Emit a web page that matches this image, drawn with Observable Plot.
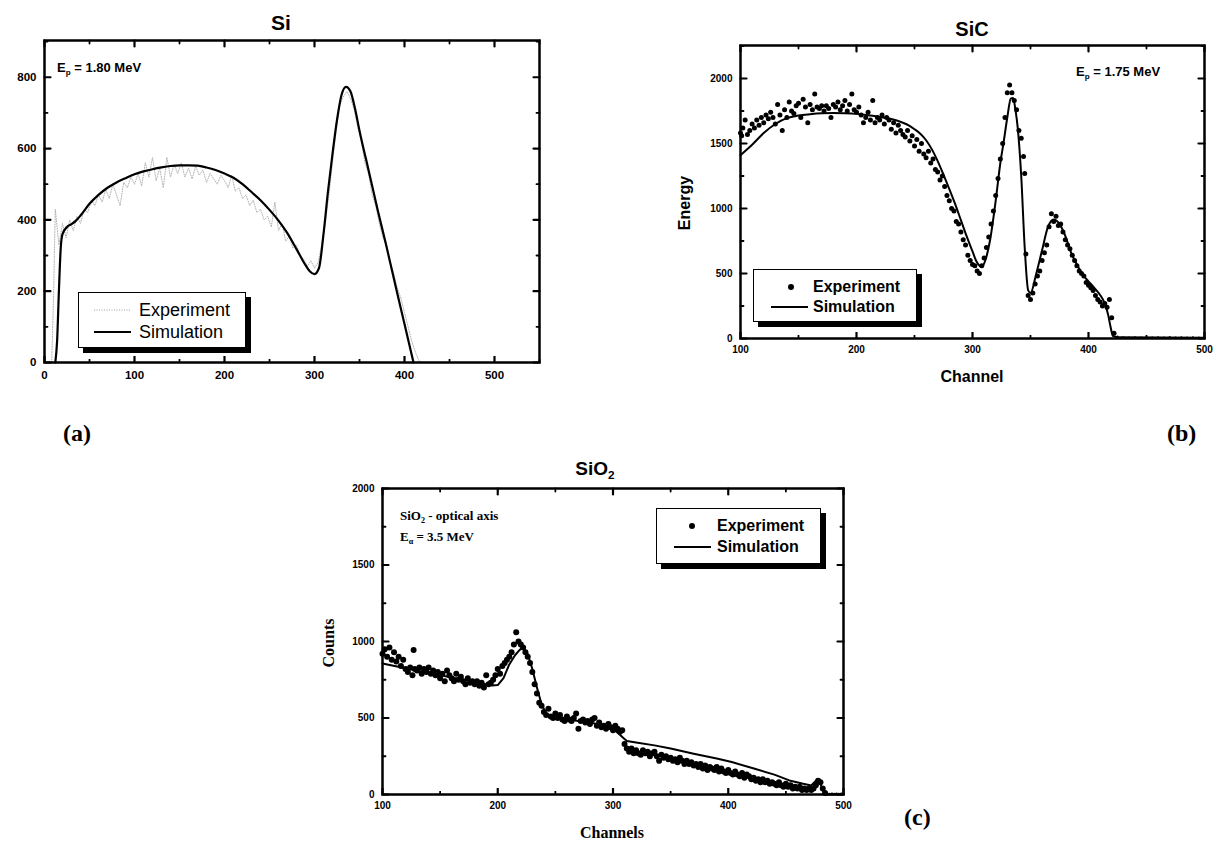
<!DOCTYPE html>
<html>
<head>
<meta charset="utf-8">
<script src="https://cdn.jsdelivr.net/npm/d3@7"></script>
<script src="https://cdn.jsdelivr.net/npm/@observablehq/plot@0.6"></script>
<style>
  html, body { margin: 0; padding: 0; background: #fff; }
  #fig { position: relative; width: 1220px; height: 844px; background: #fff; overflow: hidden; }
  .t { position: absolute; white-space: nowrap; color: #000; line-height: 1; }
  .sans { font-family: "Liberation Sans", Arial, sans-serif; font-weight: bold; }
  .serif { font-family: "Liberation Serif", "Times New Roman", serif; font-weight: bold; }
  .legend { position: absolute; background: #fff; border: 1px solid #000; box-shadow: 5px 5px 0 #000; box-sizing: border-box; }
  sub { font-size: 0.62em; vertical-align: -0.35em; line-height: 0; }
</style>
</head>
<body>
<div id="fig"></div>
<script>
// ---------------- DATA ----------------
const siSim = [[12,0],[14,60],[16,200],[18,320],[20,360],[25,380],[30,388],[35,398],[40,412],[50,445],[60,470],[70,490],[80,505],[90,517],[100,528],[110,536],[120,542],[130,547],[140,551],[150,553],[160,553],[170,552],[180,547],[190,540],[200,530],[210,518],[220,500],[230,478],[240,455],[250,428],[260,398],[270,362],[280,318],[290,273],[295,255],[300,248],[305,265],[310,360],[315,480],[320,585],[325,680],[330,750],[335,773],[340,760],[345,712],[350,650],[360,540],[370,430],[380,325],[390,215],[400,108],[410,0]];
const siExp = [[8,0],[10,180],[12,430],[16,330],[20,390],[24,350],[28,400],[32,370],[36,410],[40,390],[44,430],[48,420],[52,455],[56,440],[60,470],[64,450],[68,485],[72,460],[76,500],[80,470],[84,440],[88,505],[92,490],[96,520],[100,500],[104,530],[108,495],[112,560],[116,520],[120,575],[124,510],[128,545],[132,490],[136,575],[140,520],[144,555],[148,530],[152,560],[156,520],[160,545],[164,515],[168,550],[172,525],[176,540],[180,505],[184,530],[188,515],[192,500],[196,525],[200,510],[204,490],[208,525],[212,480],[216,490],[220,460],[224,470],[228,440],[232,455],[236,420],[240,430],[244,400],[248,410],[252,380],[256,450],[260,370],[264,390],[268,340],[272,355],[276,320],[280,330],[284,300],[288,290],[292,270],[296,285],[300,265],[304,280],[308,330],[312,390],[316,470],[320,560],[324,650],[328,720],[332,745],[336,760],[340,740],[344,710],[348,660],[352,620],[356,560],[360,530],[364,470],[368,440],[372,390],[376,350],[380,330],[384,280],[388,250],[392,210],[396,180],[400,140],[404,100],[408,60],[412,30],[416,5],[420,0],[440,0],[460,0],[470,0]];
const siXMajor = [0,100,200,300,400,500];
const siXMinor = [50,150,250,350,450,550];
const siYMajor = [0,200,400,600,800];
const siYMinor = [100,300,500,700,900];

const sicSim = [[100,1410],[110,1490],[120,1580],[130,1650],[140,1695],[150,1715],[160,1725],[170,1732],[180,1735],[190,1733],[200,1728],[210,1718],[220,1705],[230,1688],[240,1660],[245,1640],[250,1610],[255,1575],[260,1525],[265,1455],[270,1365],[275,1260],[280,1150],[285,1035],[290,910],[295,785],[300,670],[303,600],[305,570],[308,550],[311,600],[315,750],[320,1060],[324,1350],[327,1520],[330,1700],[333,1845],[335,1850],[337,1760],[339,1620],[342,1250],[345,700],[348,370],[350,350],[355,500],[360,680],[365,856],[370,915],[375,880],[380,790],[385,660],[390,570],[395,490],[400,440],[405,390],[410,335],[414,270],[417,180],[419,90],[421,20],[425,10],[500,5]];
const sicExp = [[100,1580],[101,1560],[102,1620],[104,1680],[106,1570],[108,1600],[110,1650],[112,1620],[114,1680],[116,1640],[118,1700],[120,1660],[122,1720],[124,1690],[126,1740],[128,1700],[130,1650],[132,1800],[134,1720],[136,1600],[138,1760],[140,1700],[142,1820],[144,1750],[146,1730],[148,1790],[150,1810],[152,1700],[154,1840],[156,1780],[158,1660],[160,1800],[162,1760],[164,1880],[166,1780],[168,1770],[170,1790],[172,1750],[174,1790],[176,1770],[178,1700],[180,1800],[182,1780],[184,1820],[186,1760],[188,1790],[190,1830],[192,1750],[194,1800],[196,1880],[198,1760],[200,1740],[202,1780],[204,1720],[206,1660],[208,1700],[210,1740],[212,1680],[214,1830],[216,1660],[218,1700],[220,1680],[222,1720],[224,1650],[226,1700],[228,1680],[230,1610],[232,1660],[234,1580],[236,1640],[238,1600],[240,1570],[242,1550],[244,1600],[246,1520],[248,1560],[250,1480],[252,1530],[254,1440],[256,1500],[258,1420],[260,1390],[262,1440],[264,1350],[266,1380],[268,1300],[270,1280],[272,1220],[274,1250],[276,1170],[278,1100],[280,1060],[282,1000],[284,980],[286,900],[288,880],[290,820],[292,760],[294,720],[296,640],[298,600],[300,570],[302,560],[304,520],[306,500],[308,560],[310,620],[312,700],[314,780],[316,880],[318,980],[320,1100],[322,1230],[324,1380],[326,1500],[328,1700],[330,1890],[332,1950],[334,1890],[336,1830],[338,1760],[340,1600],[342,1540],[344,1400],[345,1270],[346,650],[348,330],[350,300],[352,350],[354,420],[356,480],[358,520],[360,600],[362,660],[364,720],[366,860],[368,960],[370,900],[372,940],[374,870],[376,880],[378,820],[380,760],[382,720],[384,690],[386,640],[388,600],[390,560],[392,520],[394,500],[396,480],[398,430],[400,410],[402,390],[404,370],[406,330],[408,300],[410,280],[412,250],[414,270],[416,240],[418,300],[420,160],[422,40]];
const sicTail = [[425,15],[430,10],[435,8],[440,10],[445,8],[450,9],[455,8],[460,10],[465,8],[470,12],[475,8],[480,9],[485,8],[490,10],[495,8],[500,9]];
const sicXMajor = [100,200,300,400,500];
const sicXMinor = [150,250,350,450];
const sicYMajor = [0,500,1000,1500,2000];
const sicYMinor = [250,750,1250,1750,2250];

const sio2Sim = [[100,856],[120,825],[140,795],[160,765],[180,735],[195,712],[200,715],[205,760],[210,850],[215,910],[219,945],[222,960],[226,920],[230,820],[234,700],[238,590],[242,530],[246,510],[250,500],[260,490],[270,480],[280,470],[290,455],[300,430],[306,390],[309,370],[312,350],[320,340],[336,321],[350,300],[370,266],[390,235],[403,212],[423,168],[440,130],[453,92],[465,70],[472,59],[477,96],[480,70],[482,26],[486,0],[500,0]];
const sio2Exp = [[100,920],[102,950],[104,900],[106,960],[108,880],[110,930],[112,870],[114,900],[116,840],[118,880],[120,820],[122,800],[124,830],[126,780],[127,945],[128,820],[130,810],[132,830],[134,790],[136,820],[138,800],[140,830],[142,790],[144,810],[146,780],[148,800],[150,760],[152,790],[154,740],[156,810],[158,780],[160,760],[162,740],[164,790],[166,750],[168,770],[170,740],[172,720],[174,760],[176,730],[178,740],[180,720],[182,740],[184,710],[186,730],[188,700],[190,780],[192,720],[194,730],[196,750],[198,780],[200,820],[202,790],[204,840],[206,860],[208,880],[210,900],[212,930],[214,980],[216,1060],[218,1000],[220,980],[222,960],[224,930],[226,900],[228,860],[230,800],[232,720],[234,660],[236,600],[238,580],[240,540],[242,520],[244,560],[246,510],[248,500],[250,530],[252,500],[254,520],[256,490],[258,480],[260,510],[262,490],[264,480],[266,500],[268,530],[270,430],[272,480],[274,490],[276,470],[278,480],[280,460],[282,490],[284,500],[286,450],[288,470],[290,440],[292,450],[294,430],[296,460],[298,440],[300,420],[302,450],[304,430],[306,410],[308,420],[310,330],[312,300],[314,280],[316,300],[318,270],[320,290],[322,270],[324,260],[326,290],[328,270],[330,280],[332,250],[334,270],[336,280],[338,250],[340,220],[342,260],[344,240],[346,250],[348,230],[350,240],[352,220],[354,230],[356,210],[358,240],[360,220],[362,200],[364,220],[366,200],[368,210],[370,190],[372,200],[374,180],[376,200],[378,170],[380,190],[382,160],[384,180],[386,170],[388,160],[390,180],[392,150],[394,170],[396,150],[398,140],[400,160],[402,140],[404,130],[406,150],[408,130],[410,120],[412,140],[414,110],[416,130],[418,120],[420,100],[422,110],[424,90],[426,100],[428,80],[430,100],[432,80],[434,90],[436,70],[438,80],[440,70],[442,60],[444,80],[446,60],[448,50],[450,70],[452,50],[454,60],[456,40],[458,50],[460,40],[462,50],[464,30],[466,40],[468,30],[470,40],[472,30],[474,40],[476,60],[478,90],[480,80],[482,40],[484,10]];
const sio2Tail = [[486,5],[488,4],[490,5],[492,4],[494,5],[496,4],[498,5],[500,4]];
const sio2XMajor = [100,200,300,400,500];
const sio2XMinor = [150,250,350,450];
const sio2YMajor = [0,500,1000,1500,2000];
const sio2YMinor = [250,750,1250,1750];

// ---------------- RENDER ----------------
const fig = document.getElementById("fig");

function put(html, cls, left, top, style = "") {
  const d = document.createElement("div");
  d.className = "t " + cls;
  d.innerHTML = html;
  d.style.cssText += `left:${left}px;top:${top}px;${style}`;
  fig.appendChild(d);
  return d;
}

// inward tick marks built from the tick-value arrays through the plot's scales
function innerTicks(o, fh) {
  const maj = 6, min = 3, col = "#000";
  const [x0, x1] = o.xDomain, [y0, y1] = o.yDomain;
  const perPx = (y1 - y0) / fh; // y data units per pixel
  const seg = {draw(ctx, l) { ctx.moveTo(0, 0); ctx.lineTo(0, -l); }};
  const v = (data, x, y, len, rot, sw) =>
    Plot.vector(data, {x, y, length: len, rotate: rot, anchor: "start", shape: seg, stroke: col, strokeWidth: sw});
  return [
    Plot.ruleX(o.xMajor, {x: d => d, y1: y0, y2: y0 + maj * perPx, stroke: col, strokeWidth: 2.2}),
    Plot.ruleX(o.xMinor, {x: d => d, y1: y0, y2: y0 + min * perPx, stroke: col, strokeWidth: 1.8}),
    v(o.xMajor, d => d, () => y1, maj, 180, 2.2),
    v(o.xMinor, d => d, () => y1, min, 180, 1.8),
    v(o.yMajor, () => x0, d => d, maj, 90, 2.2),
    v(o.yMinor, () => x0, d => d, min, 90, 1.8),
    v(o.yMajor, () => x1, d => d, maj, 270, 2.2),
    v(o.yMinor, () => x1, d => d, min, 270, 1.8)
  ];
}

function panel(o) {
  const fh = o.height - o.mt - o.mb;
  const svg = Plot.plot({
    width: o.width, height: o.height,
    marginLeft: o.ml, marginRight: o.mr, marginTop: o.mt, marginBottom: o.mb,
    style: {fontFamily: "Liberation Sans, Arial, sans-serif", fontSize: o.fontSize + "px", fontWeight: "bold", color: "#000", background: "transparent"},
    x: {domain: o.xDomain, label: null},
    y: {domain: o.yDomain, label: null},
    marks: [
      ...o.marks,
      ...innerTicks(o, fh),
      Plot.axisX({anchor: "bottom", ticks: o.xMajor, tickSize: 0, tickPadding: o.xPad, tickFormat: d => String(d), fill: "#000"}),
      Plot.axisY({anchor: "left", ticks: o.yMajor, tickSize: 0, tickPadding: o.yPad, tickFormat: d => String(d), fill: "#000"}),
      Plot.frame({stroke: "#000", strokeWidth: 2.5})
    ]
  });
  svg.style.position = "absolute";
  svg.style.left = o.left + "px";
  svg.style.top = o.top + "px";
  fig.appendChild(svg);
}

// ---- (a) Si ----
panel({
  left: 0, top: 0, width: 560, height: 400, ml: 44, mr: 21, mt: 40, mb: 38,
  xDomain: [0, 550], yDomain: [0, 903], fontSize: 11.5, xPad: 8, yPad: 8,
  xMajor: siXMajor, xMinor: siXMinor, yMajor: siYMajor, yMinor: siYMinor,
  marks: [
    Plot.line(siExp, {x: d => d[0], y: d => d[1], stroke: "#b3b3b3", strokeWidth: 1, strokeDasharray: "1 1.5"}),
    Plot.line(siSim, {x: d => d[0], y: d => d[1], stroke: "#000", strokeWidth: 2.2, curve: "monotone-x"})
  ]
});
put("Si", "sans", 281, 22, "font-size:21px;transform:translate(-50%,-50%);");
put("E<sub>p</sub> = 1.80 MeV", "sans", 57, 61, "font-size:13px;");
{
  const lg = document.createElement("div");
  lg.className = "legend";
  lg.style.cssText += "left:78px;top:292px;width:168px;height:56px;";
  lg.innerHTML = `
    <svg width="168" height="56" style="position:absolute;left:0;top:0">
      <line x1="15" x2="52" y1="17" y2="17" stroke="#a0a0a0" stroke-width="1.2" stroke-dasharray="1 1.5"/>
      <line x1="15" x2="52" y1="39" y2="39" stroke="#000" stroke-width="2"/>
    </svg>
    <div class="t" style="left:60px;top:8px;font-family:'Liberation Sans',Arial,sans-serif;font-size:18px;">Experiment</div>
    <div class="t" style="left:60px;top:30px;font-family:'Liberation Sans',Arial,sans-serif;font-size:18px;">Simulation</div>`;
  fig.appendChild(lg);
}
put("(a)", "serif", 63, 421, "font-size:24px;");

// ---- (b) SiC ----
panel({
  left: 600, top: 0, width: 620, height: 400, ml: 140, mr: 16, mt: 45, mb: 62,
  xDomain: [100, 500], yDomain: [0, 2254], fontSize: 10, xPad: 7, yPad: 8,
  xMajor: sicXMajor, xMinor: sicXMinor, yMajor: sicYMajor, yMinor: sicYMinor,
  marks: [
    Plot.dot(sicTail, {x: d => d[0], y: d => d[1], r: 1, fill: "#000", stroke: "none"}),
    Plot.line(sicSim, {x: d => d[0], y: d => d[1], stroke: "#000", strokeWidth: 2, curve: "monotone-x"}),
    Plot.dot(sicExp, {x: d => d[0], y: d => d[1], r: 2.5, fill: "#000", stroke: "none"})
  ]
});
put("SiC", "sans", 972, 29, "font-size:20px;transform:translate(-50%,-50%);");
put("E<sub>p</sub> = 1.75 MeV", "sans", 1076, 65, "font-size:13px;");
put("Energy", "sans", 685, 203, "font-size:16px;transform:translate(-50%,-50%) rotate(-90deg);");
put("Channel", "sans", 972, 377, "font-size:16px;transform:translate(-50%,-50%);");
{
  const lg = document.createElement("div");
  lg.className = "legend";
  lg.style.cssText += "left:753px;top:269px;width:164px;height:53px;";
  lg.innerHTML = `
    <svg width="164" height="53" style="position:absolute;left:0;top:0">
      <circle cx="37" cy="17" r="3" fill="#000"/>
      <line x1="17" x2="54" y1="37" y2="37" stroke="#000" stroke-width="2"/>
    </svg>
    <div class="t sans" style="left:59px;top:9px;font-size:16px;">Experiment</div>
    <div class="t sans" style="left:59px;top:29px;font-size:16px;">Simulation</div>`;
  fig.appendChild(lg);
}
put("(b)", "serif", 1167, 421, "font-size:24px;");

// ---- (c) SiO2 ----
panel({
  left: 310, top: 420, width: 600, height: 424, ml: 72, mr: 67, mt: 68, mb: 50,
  xDomain: [100, 500], yDomain: [0, 2000], fontSize: 10, xPad: 7, yPad: 8,
  xMajor: sio2XMajor, xMinor: sio2XMinor, yMajor: sio2YMajor, yMinor: sio2YMinor,
  marks: [
    Plot.dot(sio2Tail, {x: d => d[0], y: d => d[1], r: 1.2, fill: "#000", stroke: "none"}),
    Plot.line(sio2Sim, {x: d => d[0], y: d => d[1], stroke: "#000", strokeWidth: 2}),
    Plot.dot(sio2Exp, {x: d => d[0], y: d => d[1], r: 3, fill: "#000", stroke: "none"})
  ]
});
put("SiO<sub>2</sub>", "sans", 595, 468, "font-size:19px;transform:translate(-50%,-50%);");
put("SiO<sub>2</sub> - optical axis", "serif", 400, 509, "font-size:13px;");
put("E<sub>α</sub> = 3.5 MeV", "serif", 400, 530, "font-size:13px;");
put("Counts", "serif", 329, 643, "font-size:16px;transform:translate(-50%,-50%) rotate(-90deg);");
put("Channels", "serif", 612, 833, "font-size:16px;transform:translate(-50%,-50%);");
{
  const lg = document.createElement("div");
  lg.className = "legend";
  lg.style.cssText += "left:656px;top:508px;width:165px;height:56px;";
  lg.innerHTML = `
    <svg width="165" height="56" style="position:absolute;left:0;top:0">
      <circle cx="35" cy="17" r="3" fill="#000"/>
      <line x1="17" x2="54" y1="38" y2="38" stroke="#000" stroke-width="2"/>
    </svg>
    <div class="t sans" style="left:60px;top:9px;font-size:16px;">Experiment</div>
    <div class="t sans" style="left:60px;top:30px;font-size:16px;">Simulation</div>`;
  fig.appendChild(lg);
}
put("(c)", "serif", 904, 805, "font-size:24px;");
</script>
</body>
</html>
